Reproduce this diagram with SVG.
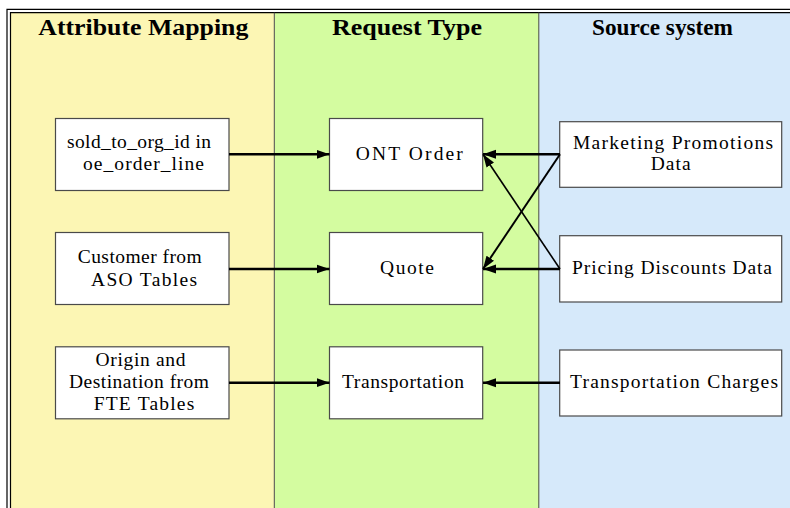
<svg xmlns="http://www.w3.org/2000/svg" width="790" height="508" viewBox="0 0 790 508">
  <defs>
    <marker id="arrow" markerUnits="userSpaceOnUse" markerWidth="14" markerHeight="10" viewBox="0 0 14 10" refX="13" refY="5" orient="auto">
      <path d="M0,0.5 L13,5 L0,9.5 Z" fill="#000"/>
    </marker>
    <style>
      .frame { fill: none; stroke: #000; stroke-width: 1.2; }
      .divider { stroke: #4a4a4a; stroke-width: 1; }
      .box { fill: #fff; stroke: #4a4a4a; stroke-width: 1.2; }
      .title { font-family: "Liberation Serif", "Times New Roman", serif; font-weight: bold; font-size: 23px; fill: #000; text-anchor: middle; }
      .label { font-family: "Liberation Serif", "Times New Roman", serif; font-size: 19.5px; fill: #000; text-anchor: middle; }
      .edge { fill: none; stroke: #000; stroke-width: 2.5; marker-end: url(#arrow); }
      .edge.thin { stroke-width: 1.6; }
      .edge.mid { stroke-width: 2; }
    </style>
  </defs>

  <rect width="790" height="508" fill="#fff"/>

  <!-- swimlane backgrounds -->
  <rect x="10.5" y="12.5" width="264" height="496" fill="#fcf6b4"/>
  <rect x="274.5" y="12.5" width="264.5" height="496" fill="#d4fca0"/>
  <rect x="539" y="12.5" width="251" height="496" fill="#d6e9fa"/>

  <!-- double frame, open at right and bottom -->
  <path class="frame" d="M7,508 V9.3 H790"/>
  <path class="frame" d="M10.5,508 V12.6 H790"/>
  <line class="divider" x1="274.3" y1="12.6" x2="274.3" y2="508"/>
  <line class="divider" x1="538.8" y1="12.6" x2="538.8" y2="508"/>

  <!-- lane headings -->
  <text class="title" x="143.3" y="35" textLength="210" lengthAdjust="spacingAndGlyphs">Attribute Mapping</text>
  <text class="title" x="407" y="35" textLength="150" lengthAdjust="spacingAndGlyphs">Request Type</text>
  <text class="title" x="662.5" y="35" textLength="141" lengthAdjust="spacingAndGlyphs">Source system</text>

  <!-- Attribute Mapping lane -->
  <g id="sold_to_org">
    <rect class="box" x="55.5" y="118.5" width="173.5" height="72"/>
    <text class="label" x="139" y="148" textLength="144" lengthAdjust="spacing">sold_to_org_id in</text>
    <text class="label" x="143.5" y="170" textLength="121" lengthAdjust="spacing">oe_order_line</text>
  </g>
  <g id="customer_aso">
    <rect class="box" x="55.5" y="232.5" width="173.5" height="72"/>
    <text class="label" x="139.7" y="262.7" textLength="124" lengthAdjust="spacing">Customer from</text>
    <text class="label" x="144" y="286" textLength="106" lengthAdjust="spacing">ASO Tables</text>
  </g>
  <g id="origin_dest">
    <rect class="box" x="55.5" y="346.8" width="173.5" height="72"/>
    <text class="label" x="140.5" y="365.7" textLength="90" lengthAdjust="spacing">Origin and</text>
    <text class="label" x="139" y="387.7" textLength="140" lengthAdjust="spacing">Destination from</text>
    <text class="label" x="144" y="410" textLength="100.6" lengthAdjust="spacing">FTE Tables</text>
  </g>

  <!-- Request Type lane -->
  <g id="ont_order">
    <rect class="box" x="329.5" y="118.5" width="153.2" height="72"/>
    <text class="label" x="409.3" y="160" textLength="107" lengthAdjust="spacing">ONT Order</text>
  </g>
  <g id="quote">
    <rect class="box" x="329.5" y="232.5" width="153.2" height="72"/>
    <text class="label" x="407" y="274" textLength="54" lengthAdjust="spacing">Quote</text>
  </g>
  <g id="transportation">
    <rect class="box" x="329.5" y="346.8" width="153.2" height="72"/>
    <text class="label" x="403" y="388" textLength="122" lengthAdjust="spacing">Transportation</text>
  </g>

  <!-- Source system lane -->
  <g id="marketing_promotions">
    <rect class="box" x="559.7" y="121.7" width="222" height="65.6"/>
    <text class="label" x="673" y="148.7" textLength="200" lengthAdjust="spacing">Marketing Promotions</text>
    <text class="label" x="670.7" y="170" textLength="40" lengthAdjust="spacing">Data</text>
  </g>
  <g id="pricing_discounts">
    <rect class="box" x="559.7" y="235.7" width="222" height="66.3"/>
    <text class="label" x="672" y="274" textLength="200" lengthAdjust="spacing">Pricing Discounts Data</text>
  </g>
  <g id="transportation_charges">
    <rect class="box" x="559.7" y="350" width="222" height="66"/>
    <text class="label" x="674" y="387.5" textLength="208" lengthAdjust="spacing">Transportation Charges</text>
  </g>

  <!-- connectors -->
  <g id="connectors">
    <line class="edge" x1="229" y1="154.3" x2="329.5" y2="154.3"/>
    <line class="edge" x1="229" y1="269" x2="329.5" y2="269"/>
    <line class="edge" x1="229" y1="382.7" x2="329.5" y2="382.7"/>
    <line class="edge" x1="560" y1="154.3" x2="483" y2="154.3"/>
    <line class="edge" x1="560" y1="269" x2="483" y2="269"/>
    <line class="edge" x1="560" y1="382.7" x2="483" y2="382.7"/>
    <line class="edge mid" x1="560" y1="154.3" x2="483" y2="269"/>
    <line class="edge thin" x1="560" y1="269" x2="483" y2="154.3"/>
  </g>
</svg>
